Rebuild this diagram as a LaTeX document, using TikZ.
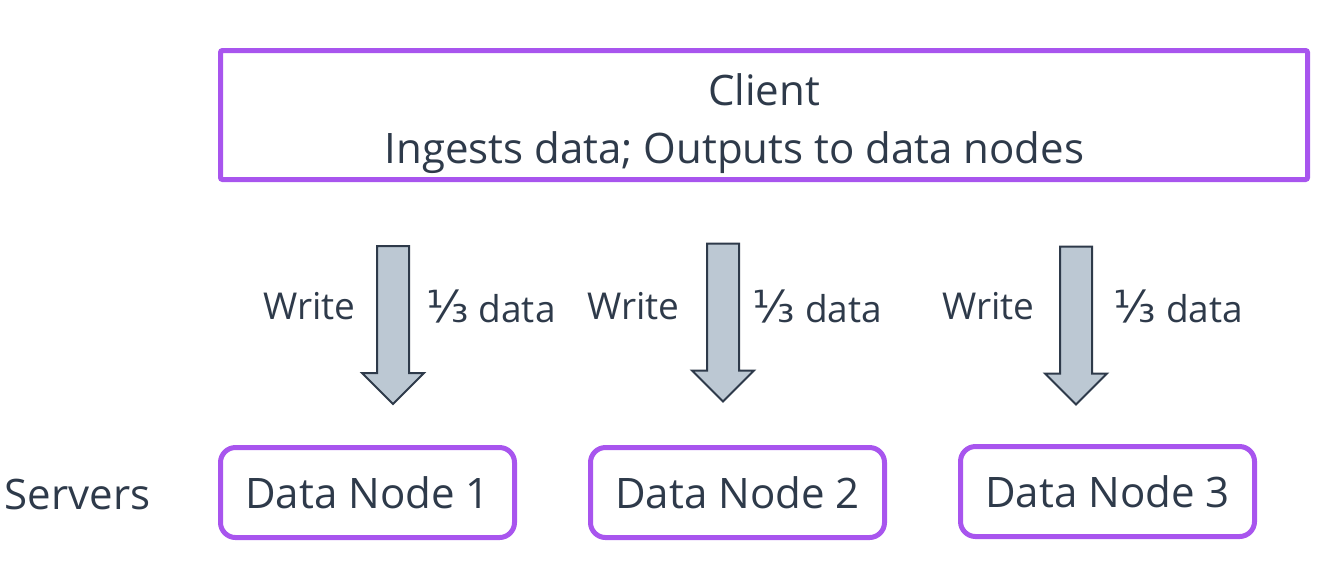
\documentclass[tikz,border=0pt]{standalone}
\usepackage{fontspec}
\setmainfont{Open Sans}
\newfontfamily\fracfont{DejaVu Sans}
\usetikzlibrary{shapes.arrows}
\definecolor{ink}{HTML}{2E3A4A}
\definecolor{nodepurple}{HTML}{A855EE}
\definecolor{arrowgray}{HTML}{BCC8D3}
\begin{document}
\begin{tikzpicture}[x=0.5pt,y=-0.5pt]
\tikzstyle{txt}=[text=ink,inner sep=0pt,font=\fontsize{21}{25}\selectfont]
\tikzstyle{small}=[txt,font=\fontsize{18.5}{22}\selectfont]
\tikzstyle{clientbox}=[draw=nodepurple,line width=2.5pt,rounded corners=1pt,minimum width=543.5pt,minimum height=64.5pt]
\tikzstyle{server}=[txt,draw=nodepurple,line width=2.5pt,rounded corners=7.5pt,minimum width=147pt,minimum height=45pt]
\tikzstyle{blockarrow}=[single arrow,draw=ink,line width=1pt,fill=arrowgray,rotate=-90,minimum height=79pt,inner xsep=0pt,inner ysep=7.5pt,single arrow head extend=7.5pt,single arrow tip angle=90]

\useasboundingbox (0,0) rectangle (1338,564);

% client
\node[clientbox] (client) at (764,115) {};
\node[txt] (clienttitle) at (764,90) {Client};
\node[txt] (clientsub) at (734.5,153) {Ingests data; Outputs to data nodes};

% writes
\foreach \i/\x/\y/\wx/\dx in {1/393/317/309.5/491, 2/723/314.5/633.5/817.5, 3/1076/317.5/988.5/1178.5}
{
  \node[blockarrow] (arrow\i) at (\x,\y) {};
  \node[small] (write\i) at (\wx,306) {Write};
  \node[small] (third\i) at (\dx,306) {{\fracfont\fontsize{22}{22}\selectfont ⅓} data};
}

% servers
\node[txt] (servers) at (77.5,494) {Servers};
\foreach \i/\x/\y in {1/367.5/492.5, 2/737.5/492.5, 3/1107.5/491.5}
{
  \node[server] (dn\i) at (\x,\y) {Data Node \i};
}

\end{tikzpicture}
\end{document}
